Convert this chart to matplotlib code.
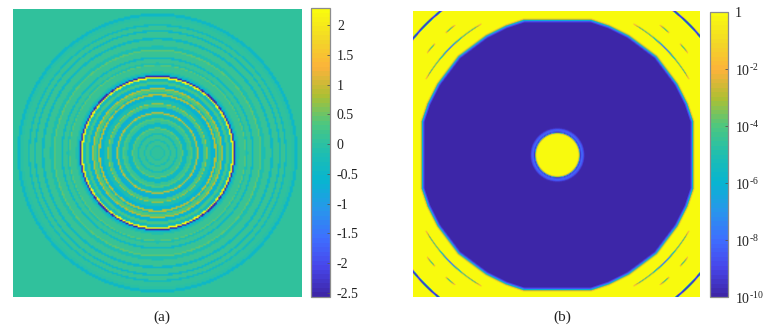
import numpy as np
import matplotlib

matplotlib.use("Agg")
import matplotlib.pyplot as plt
from matplotlib.colors import LinearSegmentedColormap, LogNorm, Normalize

W, H = 774, 332

parula_colors = [
    (0.2422, 0.1504, 0.6603),
    (0.2803, 0.2782, 0.9221),
    (0.2440, 0.4358, 0.9988),
    (0.1540, 0.5902, 0.9218),
    (0.0297, 0.7082, 0.8163),
    (0.1200, 0.7450, 0.6900),
    (0.3000, 0.7800, 0.5000),
    (0.6800, 0.7500, 0.2000),
    (0.9892, 0.7000, 0.2300),
    (0.9500, 0.8500, 0.1500),
    (0.9763, 0.9831, 0.0538),
]

# panel (a): rings, outer radius in px and value of each band
ring_outer = [6, 7.5, 12, 13.5, 18, 20, 24, 25.5, 27, 30, 33, 35, 38.5, 39.5, 41, 43, 46,
              49, 50, 54, 57.5, 59.5, 61, 64, 65.5, 69, 72, 75, 76.6, 78.1, 80, 82, 88,
              89, 91, 95, 97, 103, 104.5, 108, 114, 116.5, 122, 124, 128, 130, 135, 138, 141, 300]
ring_value = [0.08, -0.15, 0.1, -0.25, 0.1, -0.3, 0.15, 0.4, -0.3, -0.5, 0.15, 0.35, -0.3,
              0.15, 0.95, -0.5, -0.7, 0.25, 0.75, -0.2, -0.6, 0.85, -0.3, 0.35, 0.85, -0.6,
              0.3, -0.3, 2.25, -2.55, -0.6, -0.1, 0.15, 0.4, -0.2, 0.1, -0.45, 0.15, 0.4,
              -0.15, 0.12, -0.45, 0.1, -0.45, 0.1, -0.4, 0.05, 0.0, -0.5, 0.05]
a_ticks = [2, 1.5, 1, 0.5, 0, -0.5, -1, -1.5, -2, -2.5]
a_labels = ["2", "1.5", "1", "0.5", "0", "-0.5", "-1", "-1.5", "-2", "-2.5"]
a_limits = (-2.567, 2.285)

# panel (b): dark region outline in px from the centre
outline_x = [34, 52, 72, 100, 121, 131, 137, 137, 131, 121, 100, 72, 52, 34,
             -34, -52, -72, -100, -121, -131, -137, -137, -131, -121, -100, -72, -52, -34]
outline_y = [137, 131, 121, 100, 72, 52, 34, -34, -52, -72, -100, -121, -131, -137,
             -137, -131, -121, -100, -72, -52, -34, 34, 52, 72, 100, 121, 131, 137]
edge_dist = [-3.5, -2, -1, -0.2, 0.5, 1.5]
edge_log = [-10, -8.5, -6, -3.5, -1.5, 0]
hole_r = [20.8, 22, 23, 24.5, 26, 27.5]
hole_log = [0, -3, -9.5, -8, -8.7, -10]
# corner arcs: radius, half width, and log value along the angle from the diagonal
arc_radius = [153, 167, 187]
arc_width = [1.0, 1.0, 1.5]
arc_angle = [[0, 3, 7, 12, 15], [2.5, 3.5, 5.5, 7], [0, 20]]
arc_log = [[-8.5, -7, -4, -4, -1.5], [-1, -4, -4, -1], [-9.5, -9.5]]
b_ticks = [1, 1e-2, 1e-4, 1e-6, 1e-8, 1e-10]
b_labels = ["1", r"$10^{\text{-}2}$", r"$10^{\text{-}4}$", r"$10^{\text{-}6}$",
            r"$10^{\text{-}8}$", r"$10^{\text{-}10}$"]


def px_axes(fig, left, top, right, bottom):
    return fig.add_axes([left / W, 1 - bottom / H, (right - left) / W, (bottom - top) / H])


def grid(half, cells):
    c = np.linspace(-half, half, cells)
    return np.meshgrid(c, c)


def rings_field():
    x, y = grid(144.5, 190)
    r = np.hypot(x, y)
    idx = np.searchsorted(ring_outer, r)
    return np.array(ring_value)[idx]


def outline_distance(x, y):
    # biggest distance over the edges of the convex outline
    dist = np.full(x.shape, -1e9)
    for i in range(len(outline_x)):
        x0, y0 = outline_x[i], outline_y[i]
        x1, y1 = outline_x[(i + 1) % len(outline_x)], outline_y[(i + 1) % len(outline_x)]
        nx, ny = y0 - y1, x1 - x0
        norm = np.hypot(nx, ny)
        nx, ny = nx / norm, ny / norm
        if nx * x0 + ny * y0 < 0:
            nx, ny = -nx, -ny
        dist = np.maximum(dist, (x - x0) * nx + (y - y0) * ny)
    return dist


def log_field():
    x, y = grid(144, 289)
    # the pattern sits about a pixel off the image centre
    x = x - 1
    y = y - 1
    r = np.hypot(x, y)
    field = np.interp(outline_distance(x, y), edge_dist, edge_log)
    field = np.where(r < 40, np.interp(r, hole_r, hole_log), field)
    off_diag = np.abs(np.degrees(np.arctan2(np.abs(y), np.abs(x))) - 45)
    for i in range(len(arc_radius)):
        level = np.interp(off_diag, arc_angle[i], arc_log[i], left=0, right=0)
        weight = np.clip(1.6 * (1 - np.abs(r - arc_radius[i]) / arc_width[i]), 0, 1)
        field = np.minimum(field, level * weight)
    return field


def style_colorbar(cbar, ticks, labels):
    cbar.set_ticks(ticks)
    cbar.set_ticklabels(labels)
    cbar.ax.minorticks_off()
    cbar.ax.tick_params(direction="in", length=2, width=0.6, color="#555555", pad=5,
                        labelsize=10, labelcolor="#222222")
    cbar.outline.set_edgecolor("#8c8c8c")
    cbar.outline.set_linewidth(0.9)


def main():
    plt.rcParams["font.family"] = "Liberation Serif"
    plt.rcParams["mathtext.fontset"] = "custom"
    plt.rcParams["mathtext.rm"] = "Liberation Serif"
    cmap = LinearSegmentedColormap.from_list("parula", parula_colors, N=64)

    fig = plt.figure(figsize=(W / 100, H / 100), dpi=100)

    ax_a = px_axes(fig, 13, 9, 302, 297)
    norm_a = Normalize(*a_limits)
    im_a = ax_a.imshow(rings_field(), cmap=cmap, norm=norm_a, interpolation="bilinear",
                       interpolation_stage="rgba", aspect="auto")
    ax_a.axis("off")
    cax_a = px_axes(fig, 311, 8, 330, 297)
    style_colorbar(fig.colorbar(im_a, cax=cax_a), a_ticks, a_labels)

    ax_b = px_axes(fig, 413, 11, 700, 297)
    norm_b = LogNorm(1e-10, 1)
    im_b = ax_b.imshow(10.0 ** log_field(), cmap=cmap, norm=norm_b, interpolation="bilinear",
                       interpolation_stage="rgba", aspect="auto")
    ax_b.axis("off")
    cax_b = px_axes(fig, 710, 12, 728, 297)
    style_colorbar(fig.colorbar(im_b, cax=cax_b), b_ticks, b_labels)

    fig.text(162 / W, 1 - 317 / H, "(a)", ha="center", va="center", fontsize=11, color="#222222")
    fig.text(562 / W, 1 - 317 / H, "(b)", ha="center", va="center", fontsize=11, color="#222222")
    fig.savefig("out.png", dpi=100)


if __name__ == "__main__":
    main()
